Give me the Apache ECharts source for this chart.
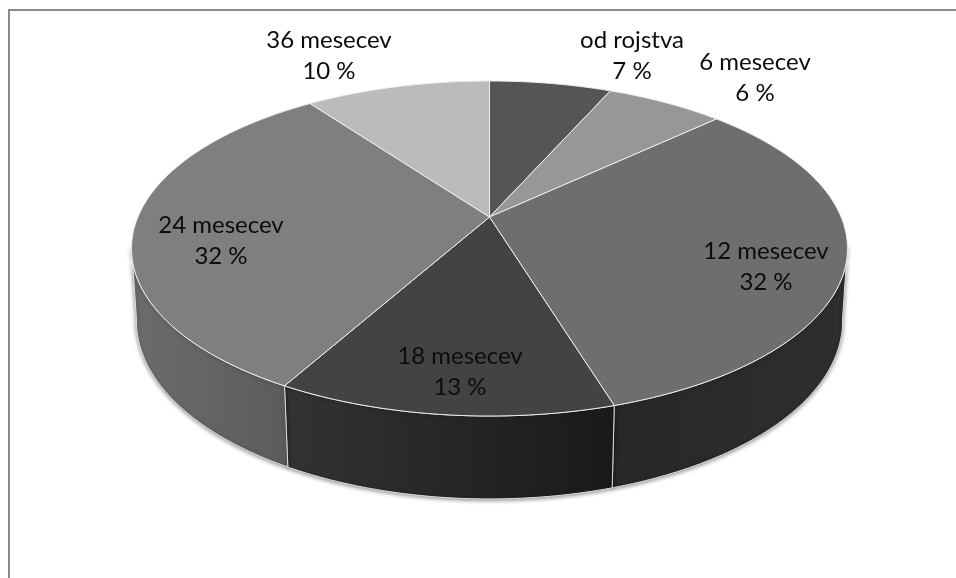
<!DOCTYPE html>
<html>
<head>
<meta charset="utf-8">
<style>
  html, body { margin: 0; padding: 0; background: #fff; }
  #chart { width: 956px; height: 578px; }
</style>
<script src="https://cdn.jsdelivr.net/npm/echarts@6/dist/echarts.min.js"></script>
</head>
<body>
<div id="chart"></div>
<script>
// data
var categories = ['od rojstva', '6 mesecev', '12 mesecev', '18 mesecev', '24 mesecev', '36 mesecev'];
var shares = [6.6, 6.4, 32.3, 12.8, 31.9, 10];

// styles
var topColors = ['#555555', '#979797', '#6e6e6e', '#434343', '#7f7f7f', '#bbbbbb'];
var wallColors = [
  ['#2c2c2c', '#2c2c2c'], ['#2c2c2c', '#2c2c2c'], ['#282828', '#2e2e2e'],
  ['#333333', '#1a1a1a'], ['#6c6c6c', '#5c5c5c'], ['#6c6c6c', '#6c6c6c']
];
var labelCenters = [[632, 56], [755, 78], [766, 267], [460, 372], [221, 241], [329, 56]];

// perspective of the disc: the same circle seen on its top and bottom plane
var topPlane = { cx: 489.5, cy: 217, rx: 351.6, ry: 161.6, k: -0.188 };
var basePlane = { cx: 489.5, cy: 288, rx: 347, ry: 171.9, k: -0.185 };
// only this part of the rim faces the viewer
var frontFrom = 100, frontTo = 260;

function project(plane, deg) {
  var a = deg * Math.PI / 180;
  var u = Math.sin(a), v = -Math.cos(a);
  var w = 1 + plane.k * v;
  return [plane.cx + plane.rx * u / w, plane.cy + plane.ry * v / w];
}

function arc(plane, from, to) {
  var pts = [];
  var n = Math.max(2, Math.ceil(to - from));
  for (var i = 0; i <= n; i++) pts.push(project(plane, from + (to - from) * i / n));
  return pts;
}

var total = shares.reduce(function (s, v) { return s + v; }, 0);
function startAngle(i) {
  var sum = 0;
  for (var j = 0; j < i; j++) sum += shares[j];
  return sum / total * 360;
}

var seriesData = categories.map(function (name, i) {
  return { name: name, value: [i, shares[i]] };
});

function renderWall(params, api) {
  var i = api.value(0);
  var start = startAngle(i);
  var from = Math.max(start, frontFrom);
  var to = Math.min(start + api.value(1) / total * 360, frontTo);
  if (to <= from) return null;
  var pts = arc(topPlane, from, to).concat(arc(basePlane, from, to).reverse());
  return {
    type: 'polygon',
    shape: { points: pts },
    style: {
      fill: new echarts.graphic.LinearGradient(0, 0, 1, 0, [
        { offset: 0, color: wallColors[i][0] },
        { offset: 1, color: wallColors[i][1] }
      ]),
      stroke: '#dedede',
      lineWidth: 1,
      shadowColor: 'rgba(0,0,0,0.45)',
      shadowBlur: 4,
      shadowOffsetY: 1
    }
  };
}

function renderTop(params, api) {
  var i = api.value(0);
  var from = startAngle(i), to = from + api.value(1) / total * 360;
  return {
    type: 'polygon',
    shape: { points: [[topPlane.cx, topPlane.cy]].concat(arc(topPlane, from, to)) },
    style: { fill: topColors[i], stroke: '#eeeeee', lineWidth: 1 }
  };
}

function renderLabel(params, api) {
  var i = api.value(0);
  return {
    type: 'text',
    style: {
      x: labelCenters[i][0],
      y: labelCenters[i][1],
      text: categories[i] + '\n' + Math.round(api.value(1)) + ' %',
      fill: '#0c0c0c',
      font: '24px Lato',
      lineHeight: 31,
      align: 'center',
      verticalAlign: 'middle'
    }
  };
}

var chart = echarts.init(document.getElementById('chart'));
chart.setOption({
  animation: false,
  backgroundColor: '#ffffff',
  graphic: [{
    type: 'rect',
    z: -1,
    shape: { x: 9, y: 10, width: 1200, height: 900 },
    style: { fill: '#ffffff', stroke: '#8a8a8a', lineWidth: 2 }
  }],
  series: [
    { type: 'custom', coordinateSystem: 'none', silent: true, z: 2, data: seriesData, renderItem: renderWall },
    { type: 'custom', coordinateSystem: 'none', silent: true, z: 3, data: seriesData, renderItem: renderTop },
    { type: 'custom', coordinateSystem: 'none', silent: true, z: 4, data: seriesData, renderItem: renderLabel }
  ]
});
</script>
</body>
</html>
